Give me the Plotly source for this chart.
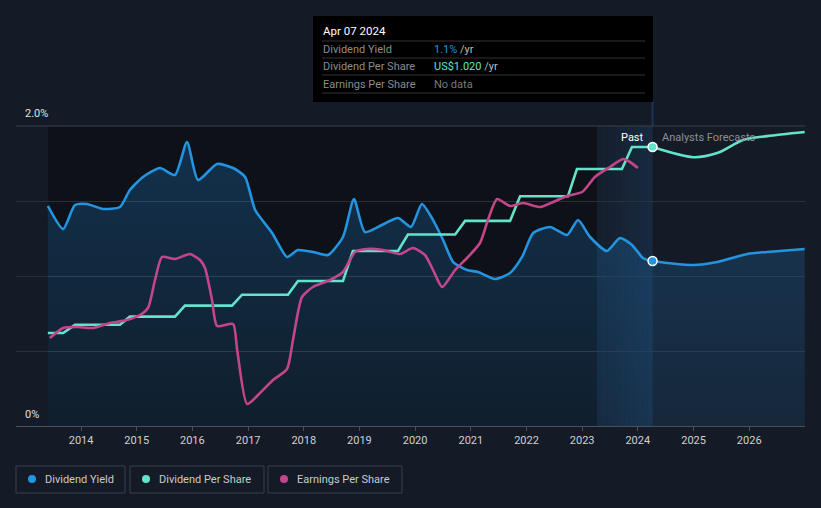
import plotly.graph_objects as go
import datetime as _dt

# ---------------- DATA ----------------
dy_dates = ["2013-05-28","2013-09-05","2013-11-22","2014-02-09","2014-05-25","2014-09-13","2014-11-17",
            "2015-02-11","2015-06-02","2015-09-09","2015-11-27","2016-02-07","2016-06-11","2016-09-24",
            "2016-12-12","2017-02-16","2017-06-07","2017-09-13","2017-11-24","2018-03-02","2018-06-09",
            "2018-09-15","2018-11-26","2019-02-06","2019-05-28","2019-09-11","2019-12-05","2020-02-15",
            "2020-04-28","2020-07-03","2020-09-07","2020-12-07","2021-02-17","2021-06-09","2021-09-15",
            "2021-12-03","2022-02-14","2022-06-05","2022-09-24","2022-12-05","2023-02-22","2023-06-13",
            "2023-09-06","2023-11-24","2024-02-04","2024-04-07","2024-12-29","2025-06-05","2025-12-19",
            "2026-04-28","2026-12-31"]
dy_values = [1.467,1.313,1.473,1.48,1.447,1.46,1.573,
             1.66,1.72,1.673,1.893,1.64,1.747,1.72,
             1.66,1.44,1.287,1.127,1.173,1.16,1.14,
             1.26,1.513,1.293,1.34,1.387,1.327,1.48,
             1.373,1.24,1.093,1.04,1.027,0.98,1.02,
             1.127,1.287,1.327,1.273,1.373,1.26,1.167,
             1.253,1.207,1.12,1.10,1.073,1.093,1.147,
             1.16,1.18]

dps_dates = ["2013-05-28","2013-09-05","2013-11-22","2014-09-13","2014-11-17","2015-09-09","2015-11-13",
             "2016-09-17","2016-11-22","2017-09-19","2017-11-24","2018-09-15","2018-11-19","2019-09-11",
             "2019-11-15","2020-09-20","2020-11-24","2021-09-15","2021-11-20","2022-09-30","2022-11-28",
             "2023-09-19","2023-11-24","2024-04-07"]
dps_values = [0.34,0.34,0.37,0.37,0.40,0.40,0.44,
              0.44,0.48,0.48,0.53,0.53,0.64,0.64,
              0.70,0.70,0.75,0.75,0.84,0.84,0.94,
              0.94,1.02,1.02]
dps_fc_dates = ["2024-04-07","2024-12-29","2025-06-05","2025-11-22","2026-04-28","2026-12-31"]
dps_fc_values = [1.02,0.983,0.998,1.046,1.06,1.075]

eps_dates = ["2013-06-10","2013-09-05","2013-12-05","2014-03-20","2014-07-09","2014-10-28","2015-01-22",
             "2015-03-16","2015-05-01","2015-06-16","2015-09-09","2015-12-16","2016-02-20","2016-03-24",
             "2016-05-09","2016-06-11","2016-09-24","2016-10-21","2016-12-25","2017-03-20","2017-06-13",
             "2017-09-13","2017-10-22","2017-12-20","2018-03-02","2018-06-22","2018-09-15","2018-12-03",
             "2019-02-19","2019-06-04","2019-09-24","2019-12-18","2020-03-06","2020-04-28","2020-06-27",
             "2020-09-20","2020-12-13","2021-03-02","2021-04-23","2021-06-22","2021-09-15","2021-12-09",
             "2022-03-31","2022-06-25","2022-09-24","2023-01-01","2023-03-26","2023-07-02","2023-09-26",
             "2023-11-11","2024-01-02"]
eps_values = [1.76,1.96,1.98,1.96,2.06,2.12,2.22,
              2.36,2.92,3.38,3.34,3.44,3.32,3.16,
              2.52,2.0,2.04,1.52,0.44,0.66,0.92,
              1.14,1.72,2.58,2.78,2.92,3.08,3.48,
              3.54,3.52,3.44,3.56,3.42,3.12,2.78,
              3.12,3.38,3.66,4.12,4.54,4.40,4.46,
              4.38,4.48,4.60,4.68,4.98,5.18,5.34,
              5.28,5.16]

x_ticks = ["2014-01-01","2015-01-01","2016-01-01","2017-01-01","2018-01-01","2019-01-01","2020-01-01",
           "2021-01-01","2022-01-01","2023-01-01","2024-01-01","2025-01-01","2026-01-01"]
x_tick_labels = ["2014","2015","2016","2017","2018","2019","2020","2021","2022","2023","2024","2025","2026"]

today = "2024-04-07"
past_start = "2013-05-28"
band_start = "2023-04-07"

BLUE = "#2394df"
TEAL = "#63e3cb"
PINK = "#c4468a"
BG = "#151b26"
FONT = "Roboto"

# --------------- helpers for pixel -> paper ---------------
L, R, T, B = 16, 805, 126, 426
def px(x):
    return (x - L) / (R - L)
def py(y):
    return (B - y) / (B - T)

fig = go.Figure()

fig.add_trace(go.Scatter(
    x=dy_dates, y=dy_values, mode="lines", name="Dividend Yield",
    line=dict(color=BLUE, width=2.6, shape="spline", smoothing=0.6),
    fill="tozeroy",
    fillgradient=dict(type="vertical",
                      colorscale=[[0, "rgba(33,150,243,0.10)"], [1, "rgba(33,150,243,0.24)"]]),
    hoverinfo="skip", yaxis="y"))

fig.add_trace(go.Scatter(
    x=dps_dates, y=dps_values, mode="lines", name="Dividend Per Share",
    line=dict(color=TEAL, width=2.6), hoverinfo="skip", yaxis="y2"))
fig.add_trace(go.Scatter(
    x=dps_fc_dates, y=dps_fc_values, mode="lines", showlegend=False,
    line=dict(color=TEAL, width=2.6, shape="spline", smoothing=0.8), hoverinfo="skip", yaxis="y2"))

fig.add_trace(go.Scatter(
    x=eps_dates, y=eps_values, mode="lines", name="Earnings Per Share",
    line=dict(color=PINK, width=2.6, shape="spline", smoothing=0.6), hoverinfo="skip", yaxis="y3"))

# markers at today
fig.add_trace(go.Scatter(x=[today], y=[dy_values[dy_dates.index(today)]], mode="markers",
                         marker=dict(color=BLUE, size=9, line=dict(color="white", width=1.5)),
                         hoverinfo="skip", yaxis="y"))
fig.add_trace(go.Scatter(x=[today], y=[dps_fc_values[0]], mode="markers",
                         marker=dict(color=TEAL, size=9, line=dict(color="white", width=1.5)),
                         hoverinfo="skip", yaxis="y2"))

shapes = []
# dark past region
shapes.append(dict(type="rect", xref="x", yref="paper", x0=past_start, x1=band_start, y0=0, y1=1,
                   fillcolor="#0e1117", line=dict(width=0), layer="below"))
# highlight band (gradient approximation)
d0 = _dt.date(2023, 4, 7)
d1 = _dt.date(2024, 4, 7)
n = 12
span = (d1 - d0).days
for i in range(n):
    a = d0 + _dt.timedelta(days=span * i / n)
    b = d0 + _dt.timedelta(days=span * (i + 1) / n)
    alpha = 0.05 + 0.12 * (i / (n - 1))
    shapes.append(dict(type="rect", xref="x", yref="paper", x0=a.isoformat(), x1=b.isoformat(), y0=0, y1=1,
                       fillcolor=f"rgba(40,120,190,{alpha:.3f})", line=dict(width=0), layer="below"))
# vertical line from tooltip
shapes.append(dict(type="line", xref="x", yref="paper", x0=today, x1=today, y0=1, y1=py(100),
                   line=dict(color="#1c3550", width=2), layer="below"))
# top line
shapes.append(dict(type="line", xref="paper", yref="paper", x0=0, x1=1, y0=1, y1=1,
                   line=dict(color="#3b414b", width=1)))

# tooltip box
shapes.append(dict(type="rect", xref="paper", yref="paper", x0=px(313), x1=px(653), y0=py(16), y1=py(102),
                   fillcolor="#000000", line=dict(width=0)))
for yy in [41, 58, 75, 93]:
    shapes.append(dict(type="line", xref="paper", yref="paper", x0=px(322), x1=px(645), y0=py(yy), y1=py(yy),
                       line=dict(color="#333333", width=1)))

# legend boxes
for x0, x1 in [(16, 125), (130, 264), (268, 402)]:
    shapes.append(dict(type="rect", xref="paper", yref="paper", x0=px(x0), x1=px(x1), y0=py(466), y1=py(493),
                       fillcolor="rgba(0,0,0,0)", line=dict(color="#3a404b", width=1)))
for cx, col in [(32, BLUE), (146, TEAL), (284, PINK)]:
    shapes.append(dict(type="circle", xref="paper", yref="paper", x0=px(cx - 4), x1=px(cx + 4),
                       y0=py(483), y1=py(475), fillcolor=col, line=dict(width=0)))

annotations = []
annotations.append(dict(xref="paper", yref="paper", x=px(23), y=py(114), text="2.0%", showarrow=False,
                        xanchor="left", yanchor="middle", font=dict(family=FONT, size=11, color="#e0e0e0")))
annotations.append(dict(xref="paper", yref="paper", x=px(23), y=py(414), text="0%", showarrow=False,
                        xanchor="left", yanchor="middle", font=dict(family=FONT, size=11, color="#e0e0e0")))
annotations.append(dict(xref="paper", yref="paper", x=px(646), y=py(137), text="Past", showarrow=False,
                        xanchor="right", yanchor="middle", font=dict(family=FONT, size=11, color="#ffffff")))
annotations.append(dict(xref="paper", yref="paper", x=px(660), y=py(137), text="Analysts Forecasts",
                        showarrow=False, xanchor="left", yanchor="middle",
                        font=dict(family=FONT, size=11, color="#8a9099")))
# tooltip text
annotations.append(dict(xref="paper", yref="paper", x=px(321), y=py(31), text="Apr 07 2024", showarrow=False,
                        xanchor="left", yanchor="middle", font=dict(family=FONT, size=11.5, color="#ffffff")))
rows = [("Dividend Yield", "<span style='color:#2394df'>1.1%</span> /yr", 49),
        ("Dividend Per Share", "<span style='color:#63e3cb'>US$1.020</span> /yr", 66),
        ("Earnings Per Share", "<span style='color:#7a7a7a'>No data</span>", 84)]
for lab, val, yy in rows:
    annotations.append(dict(xref="paper", yref="paper", x=px(321), y=py(yy), text=lab, showarrow=False,
                            xanchor="left", yanchor="middle", font=dict(family=FONT, size=11, color="#8c8c8c")))
    annotations.append(dict(xref="paper", yref="paper", x=px(432), y=py(yy), text=val, showarrow=False,
                            xanchor="left", yanchor="middle", font=dict(family=FONT, size=11, color="#bdbdbd")))
# legend text
for tx, label in [(43, "Dividend Yield"), (157, "Dividend Per Share"), (295, "Earnings Per Share")]:
    annotations.append(dict(xref="paper", yref="paper", x=px(tx), y=py(479), text=label, showarrow=False,
                            xanchor="left", yanchor="middle", font=dict(family=FONT, size=11, color="#c8cad0")))

fig.update_layout(
    width=821, height=508,
    margin=dict(l=L, r=821 - R, t=T, b=508 - B),
    paper_bgcolor=BG, plot_bgcolor=BG,
    showlegend=False,
    font=dict(family=FONT, color="#c0c0c0"),
    xaxis=dict(type="date", range=["2012-10-31", "2027-01-02"], tickvals=x_ticks, ticktext=x_tick_labels,
               showgrid=False, zeroline=False, showline=True, linecolor="#4a505a", linewidth=1,
               ticks="outside", ticklen=4, tickcolor="#4a505a",
               tickfont=dict(family=FONT, size=11, color="#d0d0d0")),
    yaxis=dict(range=[0, 2.0], tickvals=[0, 0.5, 1.0, 1.5, 2.0], showticklabels=False,
               showgrid=True, gridcolor="#2a303b", gridwidth=1, zeroline=False, fixedrange=True),
    yaxis2=dict(range=[0, 1.097], overlaying="y", visible=False, showgrid=False),
    yaxis3=dict(range=[0, 6.0], overlaying="y", visible=False, showgrid=False),
    shapes=shapes, annotations=annotations,
)

fig.write_html("out.html", config={"displayModeBar": False},
               post_script="document.body.style.margin='0';document.body.style.background='#151b26';")
